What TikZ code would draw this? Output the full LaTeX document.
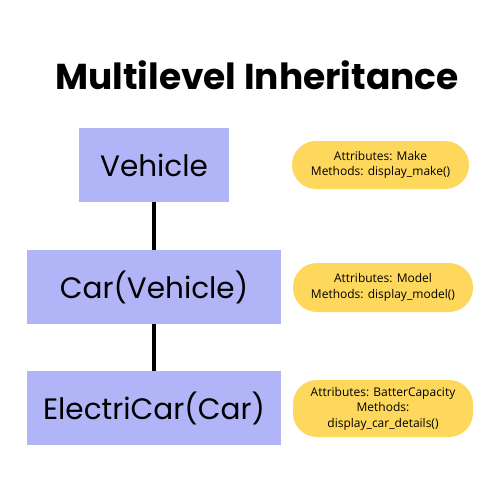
\documentclass[tikz,border=0pt]{standalone}
\usepackage{fontspec}
\setmainfont{Poppins}
\newfontfamily\pillfont{Open Sans}
\definecolor{boxblue}{HTML}{B2B4F8}
\definecolor{pillyellow}{HTML}{FDD85C}
\tikzset{
  classbox/.style={fill=boxblue, inner sep=0pt, font=\fontsize{29.5}{33}\selectfont},
  pill/.style={fill=pillyellow, rounded corners=24pt, inner sep=0pt, align=center,
    font=\pillfont\fontsize{12}{15.5}\selectfont},
  link/.style={line width=4pt}
}
\begin{document}
\begin{tikzpicture}[x=1pt, y=-1pt]
      \useasboundingbox (0,0) rectangle (500,500);
      \node[font=\bfseries\fontsize{36}{40}\selectfont] (title) at (257,75) {Multilevel Inheritance};
      \node[classbox, minimum width=150pt, minimum height=74pt] (vehicle) at (154,165) {Vehicle};
      \node[classbox, minimum width=254pt, minimum height=74pt] (car) at (154,287) {Car(Vehicle)};
      \node[classbox, minimum width=254pt, minimum height=74pt] (ecar) at (154,408) {ElectriCar(Car)};
      \node[pill, minimum width=177pt, minimum height=48pt] (makeinfo) at (380.5,165)
        {Attributes: Make\\Methods: display\_make()};
      \node[pill, minimum width=180pt, minimum height=49pt] (modelinfo) at (383,287.5)
        {Attributes: Model\\Methods: display\_model()};
      \node[pill, minimum width=180pt, minimum height=57pt] (batteryinfo) at (383,408.5)
        {Attributes: BatterCapacity\\Methods:\\display\_car\_details()};
      \begin{scope}[link]
        \draw (vehicle) to (car);
        \draw (car) to (ecar);
      \end{scope}
    \end{tikzpicture}
\end{document}
